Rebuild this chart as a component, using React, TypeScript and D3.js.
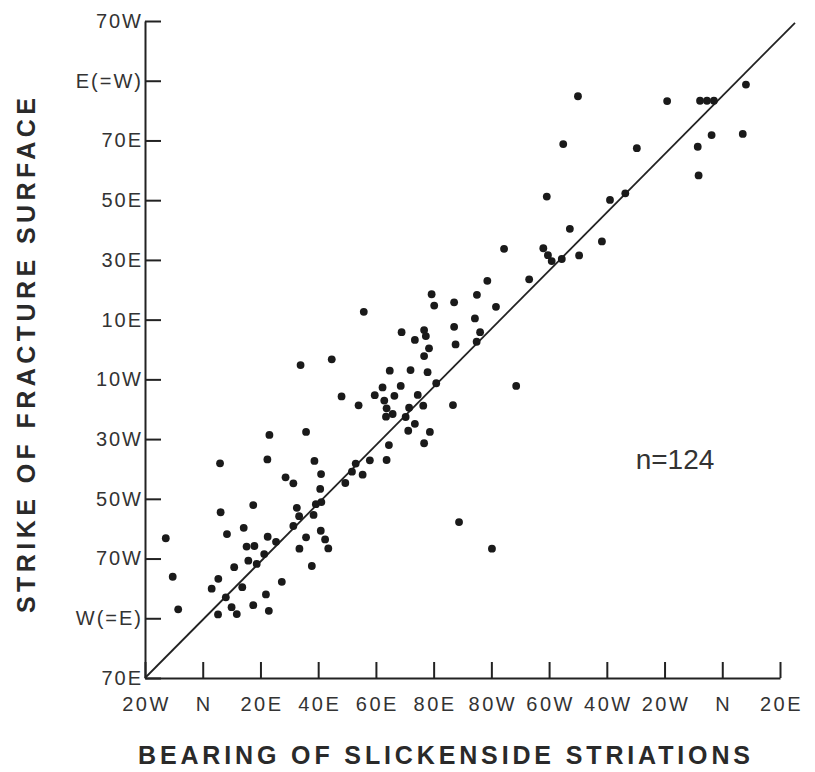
import React, { useEffect, useRef } from "react";
import * as d3 from "d3";

// bearing of slickenside striations (deg, unwrapped: 20W=-20 ... N=180 ... 20E=200)
const bearing = [
  98.6, 79.3, 95.0, 87.1, 80.2, 101.6, 55.8, 94.3, 87.1, 68.9,
  76.7, 77.3, 73.5, 96.1, 94.9, 87.6, 78.4, 76.7, 44.7, 33.9,
  64.8, 72.0, 77.9, 80.9, 62.3, 68.6, 108.6, 48.1, 59.6, 66.4,
  74.5, 62.9, 54.0, 76.4, 86.7, 71.5, 63.7, 65.8, 63.5, 70.3,
  73.5, 71.2, 78.7, 35.8, 76.7, 64.5, 38.7, 57.9, 63.7, 53.0,
  41.0, 55.4, 51.7, 28.7, 31.4, 49.4, 40.7, 32.6, 33.4, 39.2,
  41.1, 38.4, 31.4, 88.8, 40.9, 35.8, 42.4, 43.5, 33.5, 100.2,
  37.8, 27.4,
  130.0, 160.9, 172.3, 174.7, 177.1, 188.2, 124.9, 150.4, 171.5, 176.3,
  187.1, 171.8, 119.2, 141.1, 146.4, 127.2, 138.3, 104.4, 118.0, 119.6,
  120.9, 124.4, 130.4, 113.1,
  23.1, 6.0, 22.4, 6.2, 17.5, -12.8, 8.4, 14.2, 22.5, 25.4,
  15.2, 17.9, 21.3, 15.8, 18.7, 10.9, -10.4, 5.4, 3.1, 13.7,
  8.0, 21.9, -8.5, 10.0, 11.8, 5.3, 17.5, 22.9,
];

// strike of fracture surface (deg, unwrapped: 70E=-110 ... N=0 ... 70W=110)
const strike = [
  23.0, 18.5, 18.3, 15.8, 14.7, 14.3, 12.6, 10.4, 7.6, 5.8,
  6.5, 4.5, 3.2, 5.8, 2.6, 1.7, 0.4, -2.2, -3.3, -5.2,
  -7.1, -6.9, -7.6, -11.3, -12.7, -12.2, -12.2, -15.7, -15.3, -15.5,
  -15.2, -17.1, -18.7, -18.8, -18.6, -19.5, -19.7, -21.6, -22.5, -22.6,
  -24.9, -27.2, -27.6, -27.6, -31.4, -32.0, -37.3, -37.1, -37.0, -38.2,
  -41.7, -41.9, -40.9, -42.8, -44.8, -44.7, -46.7, -53.0, -55.8, -51.8,
  -51.1, -55.4, -59.1, -57.8, -60.7, -62.9, -63.6, -66.6, -66.7, -66.7,
  -72.5, -77.8,
  84.8, 83.2, 83.3, 83.3, 83.3, 88.7, 68.8, 67.4, 67.9, 71.8,
  72.2, 58.3, 51.2, 50.1, 52.3, 40.4, 36.2, 33.7, 33.9, 31.6,
  29.6, 30.3, 31.5, 23.5,
  -28.6, -38.1, -36.8, -54.5, -52.1, -63.2, -61.8, -59.7, -62.7, -64.4,
  -66.0, -65.8, -68.5, -70.7, -71.8, -72.9, -76.1, -76.8, -80.1, -79.6,
  -83.0, -82.0, -87.0, -86.3, -88.6, -88.7, -85.6, -87.5,
];

const fitBearing = [-20, 205.2];
const fitStrike = [-110, 109.4];

const xTicks = [-20, 0, 20, 40, 60, 80, 100, 120, 140, 160, 180, 200];
const xLabels = ["20W", "N", "20E", "40E", "60E", "80E", "80W", "60W", "40W", "20W", "N", "20E"];
const yTicks = [-110, -90, -70, -50, -30, -10, 10, 30, 50, 70, 90, 110];
const yLabels = ["70E", "W(=E)", "70W", "50W", "30W", "10W", "10E", "30E", "50E", "70E", "E(=W)", "70W"];

const nLabel = "n=124";
const nPos = [150, -40];

const App = () => {
  const ref = useRef<SVGSVGElement>(null);

  useEffect(() => {
    const svg = d3.select(ref.current);
    svg.selectAll("*").remove();

    const width = 815;
    const height = 772;
    const ink = "#222";
    const font = "'Liberation Sans', Arial, sans-serif";

    const x = d3.scaleLinear().domain([-20, 200]).range([145, 780]);
    const y = d3.scaleLinear().domain([-110, 110]).range([678, 21]);

    svg.attr("width", width).attr("height", height).attr("viewBox", [0, 0, width, height]);
    svg.append("rect").attr("width", width).attr("height", height).attr("fill", "#fff");

    // axes
    const xAxis = svg
      .append("g")
      .attr("transform", `translate(0,${y(-110)})`)
      .call(
        d3
          .axisBottom(x)
          .tickValues(xTicks)
          .tickFormat((_, i) => xLabels[i])
          .tickSizeInner(-16)
          .tickSizeOuter(0)
          .tickPadding(19)
      );

    const yAxis = svg
      .append("g")
      .attr("transform", `translate(${x(-20)},0)`)
      .call(
        d3
          .axisLeft(y)
          .tickValues(yTicks)
          .tickFormat((_, i) => yLabels[i])
          .tickSizeInner(-16)
          .tickSizeOuter(0)
          .tickPadding(2)
      );

    [xAxis, yAxis].forEach((g) => {
      g.select(".domain").attr("stroke", ink).attr("stroke-width", 2);
      g.selectAll(".tick line").attr("stroke", ink).attr("stroke-width", 2);
      g.selectAll(".tick text")
        .attr("fill", "#333")
        .style("font-family", font)
        .style("font-size", "20px")
        .style("letter-spacing", "2px");
    });
    xAxis.selectAll(".tick text").style("letter-spacing", "2.5px").attr("dx", "1px");

    // fitted line
    svg
      .append("line")
      .attr("x1", x(fitBearing[0]))
      .attr("y1", y(fitStrike[0]))
      .attr("x2", x(fitBearing[1]))
      .attr("y2", y(fitStrike[1]))
      .attr("stroke", ink)
      .attr("stroke-width", 1.8);

    // points
    svg
      .append("g")
      .selectAll("circle")
      .data(bearing.map((b, i) => [b, strike[i]]))
      .join("circle")
      .attr("cx", (d) => x(d[0]))
      .attr("cy", (d) => y(d[1]))
      .attr("r", 3.9)
      .attr("fill", "#1a1a1a");

    svg
      .append("text")
      .attr("x", x(nPos[0]))
      .attr("y", y(nPos[1]))
      .attr("fill", "#333")
      .style("font-family", font)
      .style("font-size", "28px")
      .text(nLabel);

    // titles
    svg
      .append("text")
      .attr("x", 444)
      .attr("y", 764)
      .attr("text-anchor", "middle")
      .attr("textLength", 612)
      .attr("lengthAdjust", "spacing")
      .attr("fill", "#2a2a2a")
      .style("font-family", font)
      .style("font-weight", "bold")
      .style("font-size", "25px")
      .text("BEARING OF SLICKENSIDE STRIATIONS");

    svg
      .append("text")
      .attr("transform", `translate(35,355.5) rotate(-90)`)
      .attr("text-anchor", "middle")
      .attr("textLength", 515)
      .attr("lengthAdjust", "spacing")
      .attr("fill", "#2a2a2a")
      .style("font-family", font)
      .style("font-weight", "bold")
      .style("font-size", "25px")
      .text("STRIKE OF FRACTURE SURFACE");
  }, []);

  return (
    <div style={{ position: "absolute", left: 0, top: 0 }}>
      <svg ref={ref} style={{ display: "block" }} />
    </div>
  );
};

export default App;
